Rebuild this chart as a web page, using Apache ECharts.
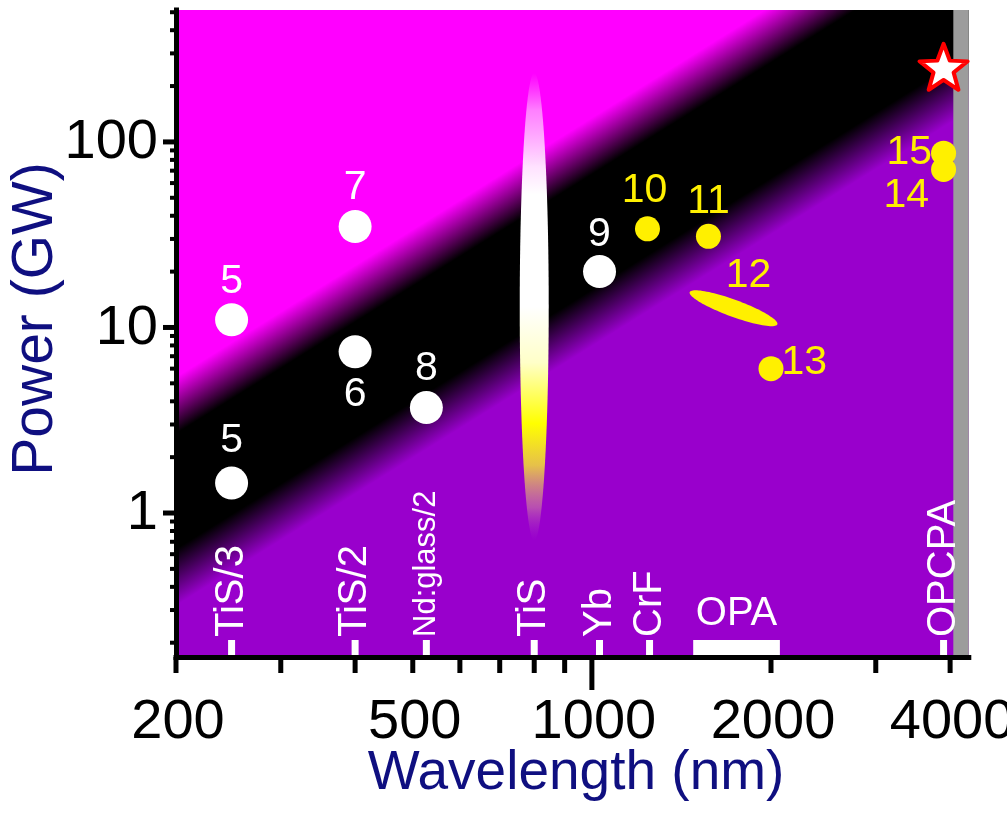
<!DOCTYPE html>
<html>
<head>
<meta charset="utf-8">
<script src="https://cdn.jsdelivr.net/npm/echarts@6/dist/echarts.min.js"></script>
<style>
html, body { margin: 0; padding: 0; background: #ffffff; }
#chart { width: 1007px; height: 828px; }
</style>
</head>
<body>
<div id="chart"></div>
<script>
// Axis extents: wavelength (nm) and peak power (GW)
const wavelengthMin = 200, wavelengthMax = 4300;
const powerMin = 0.1675, powerMax = 514;

// Tick marks and tick labels
const xTickValues = [200, 300, 400, 500, 600, 700, 800, 900, 1000, 2000, 3000, 4000];
const xLongTicks = [1000];
const xTickLabels = [200, 500, 1000, 2000, 4000];
const yMajorTicks = [1, 10, 100];
const yMinorTicks = [0.2, 0.3, 0.4, 0.5, 0.6, 0.7, 0.8, 0.9, 2, 3, 4, 5, 6, 7, 8, 9,
                     20, 30, 40, 50, 60, 70, 80, 90, 200, 300, 400, 500];
const yTickLabels = [1, 10, 100];

// Critical-power band (P ~ lambda^2): edge powers at both ends of the axis
const bandWavelengths = [200, 4300];
const bandUpperPower = [3.8, 1757];
const bandLowerPower = [0.45, 208];

// Grey strip at the long-wavelength end
const greyRange = [4050, 4300];

// Laser sources marked along the bottom
const sourceNames = ['TiS/3', 'TiS/2', 'Nd:glass/2', 'TiS', 'Yb', 'CrF', 'OPCPA'];
const sourceWavelengths = [248, 400, 527, 800, 1030, 1250, 3900];
const opaName = 'OPA';
const opaRange = [1480, 2070];

// Published results, white markers
const whiteNames = ['5', '5', '7', '6', '8', '9'];
const whiteWavelengths = [248, 248, 400, 400, 527, 1030];
const whitePowers = [11, 1.45, 35, 7.4, 3.7, 20];

// Published results, yellow markers
const yellowNames = ['10', '11', '13', '15', '14'];
const yellowWavelengths = [1240, 1570, 2000, 3900, 3900];
const yellowPowers = [34, 31, 6, 87, 71];

// Result 12: tuning range (end points)
const tunableName = '12';
const tunableWavelengths = [1460, 2050];
const tunablePowers = [15.5, 10.4];

// Ti:sapphire span
const tisWavelength = 800;
const tisPowerRange = [0.714, 235];

// This work
const starWavelengths = [3900];
const starPowers = [254];

// ---- styling ----
const FONT = '"Liberation Sans", Arial, Helvetica, sans-serif';
const MAGENTA = '#ff00ff', PURPLE = '#9900cc', YELLOW = '#fff000', NAVY = '#0f0f80';

const whiteLabelPlace = [
  { position: 'top', distance: 1 },
  { position: 'top', distance: 5 },
  { position: 'top', distance: 2 },
  { position: 'bottom', distance: 6 },
  { position: 'top', distance: 2 },
  { position: 'top', distance: 0 }
];
const yellowLabelPlace = [
  { position: 'top', distance: 5, offset: [-3, 0] },
  { position: 'top', distance: 2 },
  { position: 'right', distance: -2, offset: [0, -6] },
  { position: 'left', distance: -1 },
  { position: 'left', distance: 2, offset: [0, 26] }
];

function ellipsePoints(cx, cy, rx, ry, angle) {
  const pts = [];
  const c = Math.cos(angle), s = Math.sin(angle);
  for (let i = 0; i < 96; i++) {
    const t = i / 96 * Math.PI * 2;
    const ex = rx * Math.cos(t), ey = ry * Math.sin(t);
    pts.push([cx + ex * c - ey * s, cy + ex * s + ey * c]);
  }
  return pts;
}

function starPath(R, r) {
  let d = '';
  for (let i = 0; i < 10; i++) {
    const a = -Math.PI / 2 + i * Math.PI / 5;
    const rad = i % 2 ? r : R;
    d += (i ? 'L' : 'M') + (R + rad * Math.cos(a)).toFixed(2) + ' ' + (R + rad * Math.sin(a)).toFixed(2);
  }
  return d + 'Z';
}

function textStyle(text, size, color, align, vAlign) {
  return {
    text: text, fill: color, fontSize: size, fontFamily: FONT,
    align: align, verticalAlign: vAlign, textAlign: align, textVerticalAlign: vAlign
  };
}

const chart = echarts.init(document.getElementById('chart'), null, { renderer: 'canvas' });

const option = {
  animation: false,
  backgroundColor: '#ffffff',
  grid: { left: 176, right: 38.2, top: 10, bottom: 171, containLabel: false },
  xAxis: {
    type: 'log', logBase: 10, min: wavelengthMin, max: wavelengthMax, z: 10,
    axisLine: { show: true, lineStyle: { color: '#000', width: 5, cap: 'square' } },
    axisTick: { show: false }, axisLabel: { show: false }, splitLine: { show: false }
  },
  yAxis: {
    type: 'log', logBase: 10, min: powerMin, max: powerMax, z: 10,
    axisLine: { show: true, lineStyle: { color: '#000', width: 5, cap: 'square' } },
    axisTick: { show: false }, axisLabel: { show: false }, splitLine: { show: false }
  },
  graphic: [
    { type: 'text', x: 36, y: 319, rotation: Math.PI / 2, z: 20,
      style: textStyle('Power (GW)', 57, NAVY, 'center', 'middle') },
    { type: 'text', x: 576, y: 774, z: 20,
      style: textStyle('Wavelength (nm)', 55, NAVY, 'center', 'middle') }
  ],
  series: [
    // background: magenta / black band / purple
    {
      type: 'custom', z: 1, silent: true,
      data: [[bandWavelengths[0], bandUpperPower[0]]],
      renderItem: function (params, api) {
        const cs = params.coordSys;
        const u0 = api.coord([bandWavelengths[0], bandUpperPower[0]]);
        const u1 = api.coord([bandWavelengths[1], bandUpperPower[1]]);
        const l0 = api.coord([bandWavelengths[0], bandLowerPower[0]]);
        let dx = u1[0] - u0[0], dy = u1[1] - u0[1];
        const len = Math.hypot(dx, dy); dx /= len; dy /= len;
        const nx = -dy, ny = dx;
        const sU = u0[0] * nx + u0[1] * ny;
        const sL = l0[0] * nx + l0[1] * ny;
        const soft = 24;
        const sA = sU - soft, sB = sL + soft;
        const ax = u0[0] + (sA - sU) * nx, ay = u0[1] + (sA - sU) * ny;
        const bx = u0[0] + (sB - sU) * nx, by = u0[1] + (sB - sU) * ny;
        const k = 2 * soft / (sB - sA);
        const fill = new echarts.graphic.LinearGradient(ax, ay, bx, by, [
          { offset: 0, color: MAGENTA },
          { offset: k, color: '#000000' },
          { offset: 1 - k, color: '#000000' },
          { offset: 1, color: PURPLE }
        ], true);
        return { type: 'rect', shape: { x: cs.x, y: cs.y, width: cs.width, height: cs.height }, style: { fill: fill } };
      }
    },
    // grey strip
    {
      type: 'custom', z: 2, silent: true,
      data: [[greyRange[0], powerMax]],
      renderItem: function (params, api) {
        const p0 = api.coord([greyRange[0], powerMax]);
        const p1 = api.coord([greyRange[1], powerMin]);
        return { type: 'rect', shape: { x: p0[0], y: p0[1], width: p1[0] - p0[0], height: p1[1] - p0[1] }, style: { fill: '#9c9c9c' } };
      }
    },
    // Ti:sapphire span
    {
      type: 'custom', z: 3, silent: true,
      data: [[tisWavelength, tisPowerRange[1]]],
      renderItem: function (params, api) {
        const top = api.coord([tisWavelength, tisPowerRange[1]]);
        const bot = api.coord([tisWavelength, tisPowerRange[0]]);
        const cy = (top[1] + bot[1]) / 2, ry = (bot[1] - top[1]) / 2;
        const fill = new echarts.graphic.LinearGradient(0, 0, 0, 1, [
          { offset: 0, color: 'rgba(255,150,255,0)' },
          { offset: 0.08, color: 'rgba(255,170,255,0.75)' },
          { offset: 0.2, color: 'rgba(255,225,255,1)' },
          { offset: 0.26, color: '#ffffff' },
          { offset: 0.5, color: '#ffffff' },
          { offset: 0.62, color: '#ffffc8' },
          { offset: 0.75, color: '#ffff00' },
          { offset: 0.84, color: '#e6c04a' },
          { offset: 0.93, color: 'rgba(205,130,160,0.6)' },
          { offset: 1, color: 'rgba(170,60,200,0)' }
        ]);
        return { type: 'polygon', shape: { points: ellipsePoints(top[0], cy, 14.5, ry, 0) }, style: { fill: fill } };
      }
    },
    // Result 12 tuning range
    {
      type: 'custom', z: 4, silent: true,
      data: [[tunableWavelengths[0], tunablePowers[0]]],
      renderItem: function (params, api) {
        const p0 = api.coord([tunableWavelengths[0], tunablePowers[0]]);
        const p1 = api.coord([tunableWavelengths[1], tunablePowers[1]]);
        const cx = (p0[0] + p1[0]) / 2, cy = (p0[1] + p1[1]) / 2;
        const rx = Math.hypot(p1[0] - p0[0], p1[1] - p0[1]) / 2;
        const ang = Math.atan2(p1[1] - p0[1], p1[0] - p0[0]);
        return { type: 'group', children: [
          { type: 'polygon', shape: { points: ellipsePoints(cx, cy, rx, 8.5, ang) }, style: { fill: YELLOW } },
          { type: 'text', x: cx + 15, y: cy - 33, style: textStyle(tunableName, 41, YELLOW, 'center', 'middle') }
        ] };
      }
    },
    // white markers
    {
      type: 'scatter', z: 5, symbol: 'circle', symbolSize: 33,
      itemStyle: { color: '#ffffff', opacity: 1 },
      label: { show: true, formatter: '{b}', color: '#ffffff', fontSize: 41, fontFamily: FONT },
      data: whiteNames.map(function (n, i) {
        return { name: n, value: [whiteWavelengths[i], whitePowers[i]], label: whiteLabelPlace[i] };
      })
    },
    // yellow markers
    {
      type: 'scatter', z: 5, symbol: 'circle', symbolSize: 25,
      itemStyle: { color: YELLOW, opacity: 1 },
      label: { show: true, formatter: '{b}', color: YELLOW, fontSize: 41, fontFamily: FONT },
      data: yellowNames.map(function (n, i) {
        return { name: n, value: [yellowWavelengths[i], yellowPowers[i]], label: yellowLabelPlace[i] };
      })
    },
    // this work
    {
      type: 'scatter', z: 6, symbol: 'path://' + starPath(50, 21), symbolSize: [48, 46],
      itemStyle: { color: '#ffffff', opacity: 1, borderColor: '#ff0000', borderWidth: 4, borderJoin: 'round' },
      data: starWavelengths.map(function (w, i) { return [w, starPowers[i]]; })
    },
    // laser source markers along the bottom
    {
      type: 'custom', z: 7, silent: true,
      data: sourceWavelengths.map(function (w, i) { return [w, powerMin, i]; }),
      renderItem: function (params, api) {
        const cs = params.coordSys;
        const i = api.value(2);
        const x = api.coord([api.value(0), powerMin])[0];
        const yb = cs.y + cs.height;
        const name = sourceNames[i];
        const fs = name.length > 6 ? 31 : 40;
        return { type: 'group', children: [
          { type: 'rect', shape: { x: x - 3.5, y: yb - 17, width: 7, height: 17 }, style: { fill: '#ffffff' } },
          { type: 'text', x: x, y: yb - 20, rotation: Math.PI / 2, style: textStyle(name, fs, '#ffffff', 'left', 'middle') }
        ] };
      }
    },
    // OPA range
    {
      type: 'custom', z: 7, silent: true,
      data: [[opaRange[0], powerMin]],
      renderItem: function (params, api) {
        const cs = params.coordSys;
        const x0 = api.coord([opaRange[0], powerMin])[0];
        const x1 = api.coord([opaRange[1], powerMin])[0];
        const yb = cs.y + cs.height;
        return { type: 'group', children: [
          { type: 'rect', shape: { x: x0, y: yb - 17, width: x1 - x0, height: 17 }, style: { fill: '#ffffff' } },
          { type: 'text', x: (x0 + x1) / 2, y: yb - 43, style: textStyle(opaName, 40, '#ffffff', 'center', 'middle') }
        ] };
      }
    },
    // x ticks
    {
      type: 'custom', z: 11, silent: true, clip: false,
      data: xTickValues.map(function (v) { return [v, powerMin]; }),
      renderItem: function (params, api) {
        const cs = params.coordSys;
        const v = api.value(0);
        const x = api.coord([v, powerMin])[0];
        const yb = cs.y + cs.height;
        const L = xLongTicks.indexOf(v) >= 0 ? 33 : 16;
        return { type: 'rect', shape: { x: x - 2.5, y: yb, width: 5, height: L }, style: { fill: '#000000' } };
      }
    },
    // x tick labels
    {
      type: 'custom', z: 11, silent: true, clip: false,
      data: xTickLabels.map(function (v) { return [v, powerMin]; }),
      renderItem: function (params, api) {
        const cs = params.coordSys;
        const v = api.value(0);
        const x = api.coord([v, powerMin])[0];
        return { type: 'text', x: x + 2, y: cs.y + cs.height + 66, style: textStyle(String(v), 56, '#000000', 'center', 'middle') };
      }
    },
    // y ticks (major and minor)
    {
      type: 'custom', z: 11, silent: true, clip: false,
      data: yMajorTicks.map(function (v) { return [wavelengthMin, v, 1]; })
        .concat(yMinorTicks.map(function (v) { return [wavelengthMin, v, 0]; })),
      renderItem: function (params, api) {
        const cs = params.coordSys;
        const y = api.coord([wavelengthMin, api.value(1)])[1];
        const major = api.value(2) === 1;
        const L = major ? 13 : 6, w = major ? 5 : 4;
        return { type: 'rect', shape: { x: cs.x - L, y: y - w / 2, width: L, height: w }, style: { fill: '#000000' } };
      }
    },
    // y tick labels
    {
      type: 'custom', z: 11, silent: true, clip: false,
      data: yTickLabels.map(function (v) { return [wavelengthMin, v]; }),
      renderItem: function (params, api) {
        const cs = params.coordSys;
        const v = api.value(1);
        const y = api.coord([wavelengthMin, v])[1];
        return { type: 'text', x: cs.x - 18, y: y + 1, style: textStyle(String(v), 56, '#000000', 'right', 'middle') };
      }
    }
  ]
};

chart.setOption(option);
</script>
</body>
</html>
